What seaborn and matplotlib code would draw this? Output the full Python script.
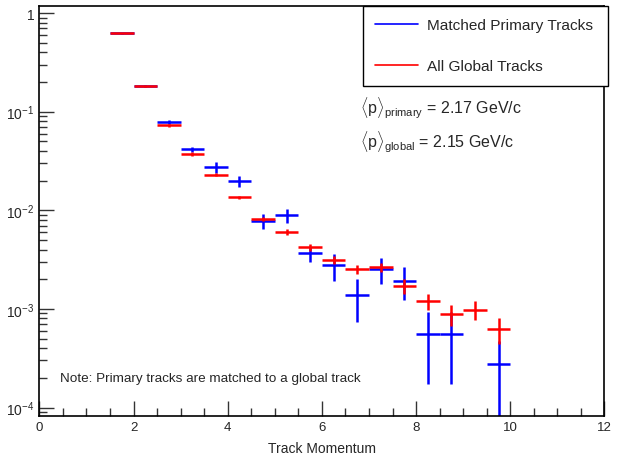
import numpy as np
import pandas as pd
import seaborn as sns
import matplotlib
matplotlib.use("Agg")
import matplotlib.pyplot as plt
from matplotlib.ticker import FuncFormatter, FixedLocator, MultipleLocator

# ---- data ----
bin_centers = [1.75, 2.25, 2.75, 3.25, 3.75, 4.25, 4.75, 5.25, 5.75, 6.25,
               6.75, 7.25, 7.75, 8.25, 8.75, 9.25, 9.75]
bin_halfwidth = 0.25

primary_vals = [0.620, 0.181, 0.0784, 0.0414, 0.0273, 0.0199, 0.00784, 0.00887,
                0.00365, 0.00277, 0.00137, 0.00255, 0.00194, 0.000555, 0.000555,
                np.nan, 0.000275]
primary_err = [0.006, 0.004, 0.0035, 0.0025, 0.0034, 0.0025, 0.0014, 0.0014,
               0.00064, 0.00085, 0.00063, 0.00077, 0.00071, 0.00038, 0.00038,
               np.nan, 0.0002]

global_vals = [0.626, 0.181, 0.0731, 0.0371, 0.0230, 0.0135, 0.00822, 0.00606,
               0.00420, 0.00314, 0.00251, 0.00265, 0.00172, 0.00120, 0.000887,
               0.000982, 0.000625]
global_err = [0.004, 0.003, 0.0025, 0.0015, 0.0009, 0.0005, 0.0004, 0.00044,
              0.0003, 0.00031, 0.00025, 0.0003, 0.0003, 0.00023, 0.00021,
              0.00021, 0.00018]

series_labels = ["Matched Primary Tracks", "All Global Tracks"]
series_colors = ["#0000ff", "#ff0000"]
mean_primary = 2.17
mean_global = 2.15
y_decades = [-4, -3, -2, -1, 0]

df = pd.DataFrame({
    "p": bin_centers * 2,
    "value": primary_vals + global_vals,
    "err": primary_err + global_err,
    "series": [series_labels[0]] * len(bin_centers) + [series_labels[1]] * len(bin_centers),
})

sns.set_style("ticks")
plt.rcParams["font.family"] = ["Liberation Sans", "DejaVu Sans"]
plt.rcParams["mathtext.fontset"] = "custom"
plt.rcParams["mathtext.rm"] = "Liberation Sans"
plt.rcParams["mathtext.it"] = "Liberation Sans"
plt.rcParams["mathtext.bf"] = "Liberation Sans:bold"

fig = plt.figure(figsize=(6.21, 4.60), dpi=100)
ax = fig.add_axes([0.0633, 0.0941, 0.9101, 0.8913])

handles = []
for lab, col in zip(series_labels, series_colors):
    sub = df[df["series"] == lab].dropna()
    ax.errorbar(sub["p"], sub["value"], yerr=sub["err"], xerr=bin_halfwidth,
                fmt="none", ecolor=col, elinewidth=1.8, capsize=0, label=lab)
    handles.append(plt.Line2D([], [], color=col, lw=1.2))

ax.set_yscale("log")
ax.set_xlim(0, 12)
ax.set_ylim(8.26e-5, 1.186)

def yfmt(v, pos):
    e = int(round(np.log10(v)))
    if e == 0:
        return "1"
    return r"$10^{%d}$" % e

major_y = [10.0 ** e for e in y_decades]
minor_y = [m * 10.0 ** e for e in [-5] + y_decades for m in range(2, 10)]
ax.yaxis.set_major_locator(FixedLocator(major_y))
ax.yaxis.set_minor_locator(FixedLocator(minor_y))
ax.yaxis.set_major_formatter(FuncFormatter(yfmt))
ax.xaxis.set_major_locator(MultipleLocator(2))
ax.xaxis.set_minor_locator(MultipleLocator(0.5))

ax.tick_params(axis="both", which="both", direction="in", top=False, right=False,
               color="#333333")
ax.tick_params(axis="y", labelsize=10)
ax.tick_params(axis="x", labelsize=9.5)
ax.tick_params(which="major", length=11, width=1)
ax.tick_params(which="minor", length=6, width=1)
for s in ax.spines.values():
    s.set_linewidth(1.2)
    s.set_color("black")

ax.set_xlabel("Track Momentum", fontsize=10, labelpad=6)

leg = ax.legend(handles, series_labels, loc="upper left",
                bbox_to_anchor=(0.572, 0.0, 0.434, 1.0), bbox_transform=ax.transAxes,
                mode="expand", borderaxespad=0, fancybox=False, framealpha=1,
                edgecolor="black", fontsize=11.1, handlelength=2.8,
                handletextpad=0.59, labelspacing=1.76, borderpad=0.8)
leg.get_frame().set_linewidth(1.0)

ax.text(0.567, 0.753, r"$\langle$p$\rangle_{\mathrm{primary}}$ = %.2f GeV/c" % mean_primary,
        transform=ax.transAxes, fontsize=11.5, va="center", ha="left")
ax.text(0.567, 0.670, r"$\langle$p$\rangle_{\mathrm{global}}$ = %.2f GeV/c" % mean_global,
        transform=ax.transAxes, fontsize=11.5, va="center", ha="left")
ax.text(0.0366, 0.092, "Note: Primary tracks are matched to a global track",
        transform=ax.transAxes, fontsize=9.7, va="center", ha="left")

fig.savefig("out.png", dpi=100)
